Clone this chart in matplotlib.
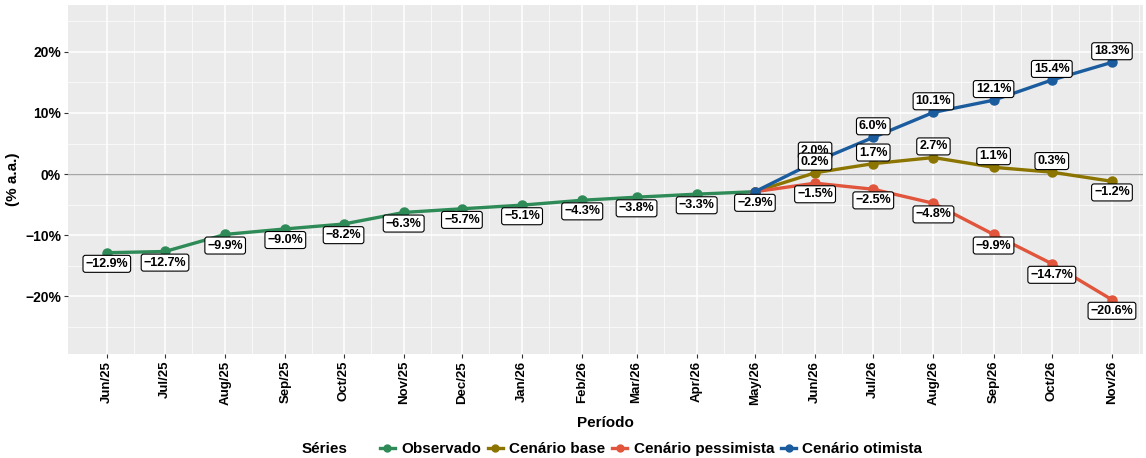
import numpy as np
import pandas as pd
import matplotlib
matplotlib.use("Agg")
import matplotlib.pyplot as plt
from matplotlib.lines import Line2D

plt.rcParams['font.family'] = ['Liberation Sans', 'DejaVu Sans']

# ---- data ----
obs_months = ["2025-06", "2025-07", "2025-08", "2025-09", "2025-10", "2025-11",
              "2025-12", "2026-01", "2026-02", "2026-03", "2026-04", "2026-05"]
obs_vals = [-12.9, -12.7, -9.9, -9.0, -8.2, -6.3, -5.7, -5.1, -4.3, -3.8, -3.3, -2.9]

proj_months = ["2026-05", "2026-06", "2026-07", "2026-08", "2026-09", "2026-10", "2026-11"]
base_vals = [-2.9, 0.2, 1.7, 2.7, 1.1, 0.3, -1.2]
pess_vals = [-2.9, -1.5, -2.5, -4.8, -9.9, -14.7, -20.6]
otim_vals = [-2.9, 2.0, 6.0, 10.1, 12.1, 15.4, 18.3]

series_names = ["Observado", "Cenário base", "Cenário pessimista", "Cenário otimista"]
colors = ["#2E8B57", "#8B7500", "#E0553B", "#1B5C9E"]

obs_dates = pd.to_datetime(obs_months)
proj_dates = pd.to_datetime(proj_months)


def fmt(v):
    return f"{v:.1f}%".replace("-", "\u2212")


fig = plt.figure(figsize=(11.46, 4.58), dpi=100)
ax = fig.add_axes([68/1146, 1-354/458, (1143-68)/1146, (354-5)/458])
ax.set_facecolor("#EBEBEB")
for s in ax.spines.values():
    s.set_visible(False)

ax.axhline(0, color="#A6A6A6", lw=1.0, zorder=1)

# lines + points
series = [(obs_dates, obs_vals), (proj_dates, base_vals),
          (proj_dates, pess_vals), (proj_dates, otim_vals)]
for i, (d, v) in enumerate(series):
    ax.plot(d, v, color=colors[i], lw=2.4, marker="o", markersize=6.5, zorder=3 + i)

# labels (skip the shared May/26 point on projections)
label_z = {0: 10, 3: 11, 2: 12, 1: 13}
for i, (d, v) in enumerate(series):
    for k, (dd, vv) in enumerate(zip(d, v)):
        if i > 0 and k == 0:
            continue
        off = 8 if vv > 0 else -8
        ax.annotate(fmt(vv), (dd, vv), xytext=(0, off), textcoords="offset points",
                    ha="center", va="center", fontsize=9, fontweight="bold",
                    bbox=dict(boxstyle="round,pad=0.2,rounding_size=0.2",
                              fc="white", ec="black", lw=0.8),
                    zorder=label_z[i])

# axes limits
x0 = pd.Timestamp("2025-06-01") - pd.Timedelta(days=20)
x1 = pd.Timestamp("2026-11-01") + pd.Timedelta(days=16)
ax.set_xlim(x0, x1)
ax.set_ylim(-29.5, 27.7)

all_months = pd.date_range("2025-06-01", "2026-11-01", freq="MS")
ax.set_xticks(all_months)
ax.set_xticklabels([m.strftime("%b/%y") for m in all_months], rotation=90,
                   fontsize=9.5, fontweight="bold")
minor_x = pd.date_range("2025-05-16", "2026-11-16", freq="SMS")
minor_x = [m for m in minor_x if m.day != 1]
ax.set_xticks(minor_x, minor=True)

yt = [-20, -10, 0, 10, 20]
ax.set_yticks(yt)
ax.set_yticklabels([f"{t}%".replace("-", "\u2212") for t in yt],
                   fontsize=10, fontweight="bold")
ax.set_yticks([-25, -15, -5, 5, 15, 25], minor=True)

ax.grid(which="major", color="white", lw=1.1, zorder=0)
ax.grid(which="minor", color="white", lw=0.5, zorder=0)
ax.set_axisbelow(True)
ax.tick_params(which="major", length=3, color="#333333", pad=2)
ax.tick_params(which="minor", length=0)

ax.set_xlabel("Período", fontsize=11, fontweight="bold", labelpad=8)
ax.set_ylabel("(% a.a.)", fontsize=11, fontweight="bold", labelpad=0)
ax.yaxis.set_label_coords(-0.045, 0.5)

# legend
handles = [Line2D([0], [0], color=c, lw=2.4, marker="o", markersize=5) for c in colors]
fig.text(302/1146, 1-449/458, "Séries", fontsize=11, fontweight="bold",
         ha="left", va="center")
fig.legend(handles, series_names, loc="center left", bbox_to_anchor=(372/1146, 1-449/458),
           ncol=4, frameon=False, handlelength=1.0, handletextpad=0.4,
           columnspacing=0.45, prop={"size": 11, "weight": "bold"}, borderpad=0)

fig.savefig("out.png", dpi=100)
